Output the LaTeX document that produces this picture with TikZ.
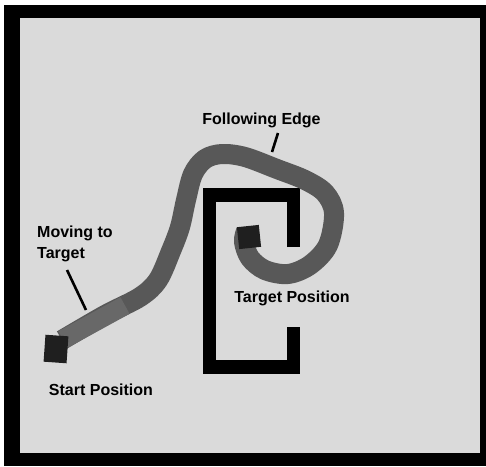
\documentclass[tikz,border=0pt]{standalone}
\usepackage{fontspec}
\setmainfont{Liberation Sans}
\definecolor{fieldgray}{RGB}{218,218,218}
\definecolor{trackgray}{RGB}{88,88,88}
\definecolor{hatchgray}{RGB}{104,104,104}
\usetikzlibrary{positioning}

\begin{document}
\begin{tikzpicture}[
  x=1pt, y=-1pt,
  lbl/.style={font=\fontsize{16}{16}\selectfont\bfseries, inner sep=0pt, anchor=base},
  track/.style={draw=trackgray, line width=20pt, line cap=butt, line join=round},
  wall/.style={draw=black, line width=13.5pt, line join=miter},
  marker/.style={fill=black!88, draw=none, inner sep=0pt},
  pointer/.style={draw=black, line width=2.6pt},
]
  \useasboundingbox (0,0) rectangle (486,466);
  \fill[white] (0,0) rectangle (486,466);
  \fill[black] (4,5) rectangle (486,466);
  \fill[fieldgray] (20,18) rectangle (480,453);

  \draw[wall] (293.5,247) -- (293.5,195) -- (209.5,195) -- (209.5,367) -- (293.5,367) -- (293.5,327);

  \draw[track] plot[smooth, tension=0.55] coordinates {
    (62,340) (105,315) (140,297) (158,280) (171,251) (180,227) (186,200)
    (193,174) (205,159) (222,154) (245,157) (277,169) (305,180) (325,193)
    (334,213) (328,245) (310,265) (288,274) (265,270) (250,258) (244,242) (246,231)};
  \draw[draw=hatchgray, line width=19pt] (63,339.5) -- (125,305.5);

  \node[marker, minimum width=23pt, minimum height=27pt, rotate=-4] (start) at (56,349) {};
  \node[marker, minimum width=22pt, minimum height=22pt, rotate=6] (goal) at (249,237) {};

  \node[lbl] (follow) at (261.5,124) {Following Edge};
  \node[lbl, anchor=base west] (moving) at (37,237) {Moving to};
  \node[lbl, anchor=base west] (target) at ([yshift=-21pt]moving.base west) {Target};
  \node[lbl] (startlbl) at (101,395) {Start Position};
  \node[lbl] (goallbl) at (292,302) {Target Position};

  \coordinate (edgetip) at (272,152);
  \coordinate (movetip) at (86,310);
  \draw[pointer] (278,133) -- (edgetip);
  \draw[pointer] (67,270) -- (movetip);
\end{tikzpicture}
\end{document}
